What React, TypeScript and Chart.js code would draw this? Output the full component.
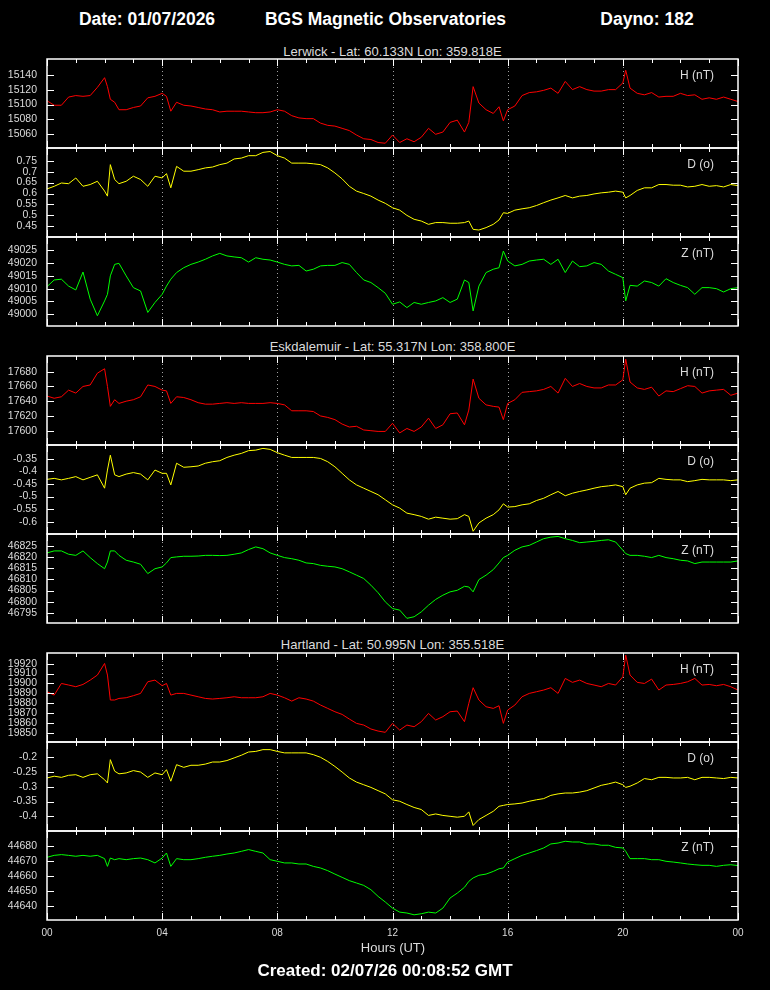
import React, { useEffect, useRef } from 'react';
import { Chart, registerables } from 'chart.js';

Chart.register(...registerables);

const FONT = "'Liberation Sans', Arial, Helvetica, sans-serif";

// ---- time axis (hours UT) ----
const HOURS = [
  0, 0.25, 0.5, 0.75, 1, 1.25, 1.5, 1.75, 2,
  2.1, 2.2, 2.35, 2.5,
  2.75, 3, 3.25, 3.5, 3.75, 4,
  4.15, 4.3, 4.5,
  4.75, 5, 5.25, 5.5, 5.75, 6, 6.25, 6.5, 6.75, 7, 7.25, 7.5, 7.75, 8, 8.25, 8.5, 8.75, 9, 9.25, 9.5, 9.75, 10, 10.25, 10.5, 10.75, 11, 11.25, 11.5, 11.75, 12,
  12.25, 12.5, 12.75, 13, 13.25, 13.5, 13.75, 14, 14.25,
  14.5, 14.65, 14.8, 15,
  15.25, 15.5, 15.7, 15.85, 16,
  16.25, 16.5, 16.75, 17, 17.25, 17.5, 17.75, 18, 18.25, 18.5, 18.75, 19, 19.25, 19.5, 19.75, 20,
  20.1, 20.25,
  20.5, 20.75, 21, 21.25, 21.5, 21.75, 22, 22.25, 22.5, 22.75, 23, 23.25, 23.5, 23.75, 24,
];

const X_TICKS = [0, 4, 8, 12, 16, 20, 24];
const X_TICK_LABELS = ['00', '04', '08', '12', '16', '20', '00'];

// ---- Lerwick ----
const LER_H = [
  15105, 15099, 15099, 15110, 15112, 15111, 15112, 15123, 15136,
  15124, 15107, 15103, 15093,
  15093, 15096, 15098, 15109, 15111, 15115,
  15111, 15091, 15103,
  15099, 15098, 15096, 15094, 15093, 15090, 15091, 15091, 15091, 15090, 15089, 15089, 15090, 15093, 15091, 15085, 15082, 15081, 15081, 15075, 15072, 15071, 15068, 15065, 15059, 15054, 15053, 15049, 15048, 15059,
  15049, 15054, 15050, 15056, 15068, 15060, 15063, 15076, 15079,
  15063, 15076, 15124, 15102,
  15093, 15088, 15097, 15078, 15093,
  15098, 15112, 15116, 15117, 15119, 15122, 15115, 15131, 15120, 15124, 15120, 15118, 15118, 15120, 15120, 15129,
  15146, 15122,
  15115, 15113, 15116, 15110, 15111, 15111, 15115, 15112, 15113, 15107, 15109, 15107, 15110, 15107, 15104,
];
const LER_D = [
  0.621, 0.633, 0.648, 0.645, 0.671, 0.633, 0.641, 0.656, 0.611,
  0.588, 0.732, 0.664, 0.645,
  0.656, 0.679, 0.664, 0.633, 0.679, 0.671,
  0.691, 0.626, 0.724,
  0.702, 0.702, 0.709, 0.717, 0.721, 0.732, 0.739, 0.758, 0.762, 0.773, 0.773, 0.788, 0.792, 0.773, 0.762, 0.739, 0.739, 0.739, 0.736, 0.732, 0.717, 0.694, 0.667, 0.633, 0.611, 0.6, 0.588, 0.57, 0.555, 0.535,
  0.524, 0.5, 0.482, 0.474, 0.459, 0.467, 0.467, 0.464, 0.464,
  0.467, 0.474, 0.436, 0.433,
  0.444, 0.459, 0.479, 0.512, 0.509,
  0.524, 0.53, 0.535, 0.545, 0.558, 0.57, 0.58, 0.591, 0.58, 0.588, 0.591, 0.598, 0.603, 0.606, 0.611, 0.606,
  0.58, 0.591,
  0.614, 0.626, 0.626, 0.641, 0.641, 0.638, 0.638, 0.63, 0.633, 0.641, 0.633, 0.636, 0.63, 0.641, 0.636,
];
const LER_Z = [
  49010.8, 49013.4, 49013.7, 49011, 49009.5, 49016.5, 49005.9, 48999.4, 49005.2,
  49007.8, 49015, 49019.5, 49019.9,
  49015, 49010.4, 49009.1, 49000.7, 49004.6, 49007.8,
  49011, 49013.7, 49016.3,
  49018.2, 49019.5, 49020.4, 49021.5, 49022.8, 49023.8, 49022.8, 49022.4, 49022.1, 49020.4, 49022.1, 49021.5, 49021.2, 49020.4, 49019.5, 49018.9, 49019.1, 49016.9, 49017.6, 49018.9, 49019.1, 49019.1, 49020.2, 49019.5, 49016.3, 49013.4, 49012.4, 49010.4, 49008.2, 49003.9,
  49004.8, 49002.6, 49004.6, 49003.9, 49004.6, 49005.2, 49006.5, 49004.6, 49005.9,
  49013.4, 49012.4, 49001.3, 49011,
  49016.3, 49017.6, 49018.2, 49024.7, 49020.8,
  49018.9, 49019.5, 49020.8, 49021.2, 49021.5, 49019.5, 49021.5, 49016.3, 49020.8, 49018.6, 49018.9, 49020.2, 49019.5, 49016.9, 49015.6, 49014.3,
  49005.2, 49011.3,
  49011, 49013, 49012.4, 49011, 49013.9, 49012.4, 49011.3, 49010.4, 49007.8, 49010.4, 49010.4, 49010, 49008.7, 49010, 49010.4,
];

// ---- Eskdalemuir ----
const ESK_H = [
  17647, 17644, 17646, 17655, 17651, 17660, 17662, 17678, 17684,
  17660, 17633, 17642, 17637,
  17640, 17642, 17646, 17662, 17660, 17655,
  17654, 17637, 17646,
  17645, 17642, 17638, 17636, 17636, 17637, 17638, 17637, 17638, 17637, 17637, 17637, 17638, 17637, 17635, 17627, 17627, 17627, 17626, 17620, 17618, 17615, 17609, 17605, 17606, 17601, 17600, 17599, 17599, 17610,
  17597, 17603, 17599, 17605, 17617, 17603, 17608, 17623, 17624,
  17608, 17628, 17670, 17644,
  17635, 17633, 17632, 17615, 17637,
  17642, 17652, 17653, 17654, 17656, 17660, 17651, 17671, 17660, 17664, 17660, 17658, 17658, 17662, 17662, 17669,
  17697, 17666,
  17658, 17656, 17659, 17647, 17654, 17653, 17657, 17661, 17660, 17651, 17654, 17655, 17656, 17648, 17651,
];
const ESK_D = [
  -0.432, -0.428, -0.434, -0.428, -0.421, -0.434, -0.424, -0.414, -0.467,
  -0.395, -0.336, -0.414, -0.421,
  -0.411, -0.405, -0.411, -0.434, -0.395, -0.408,
  -0.408, -0.454, -0.368,
  -0.384, -0.382, -0.379, -0.368, -0.362, -0.358, -0.345, -0.336, -0.329, -0.318, -0.316, -0.309, -0.313, -0.326, -0.336, -0.345, -0.345, -0.345, -0.345, -0.349, -0.362, -0.382, -0.408, -0.434, -0.454, -0.467, -0.48, -0.493, -0.513, -0.533,
  -0.546, -0.566, -0.572, -0.579, -0.59, -0.582, -0.586, -0.59, -0.588,
  -0.572, -0.579, -0.638, -0.605,
  -0.586, -0.572, -0.553, -0.529, -0.542,
  -0.54, -0.533, -0.529, -0.516, -0.507, -0.493, -0.48, -0.497, -0.487, -0.48, -0.474, -0.467, -0.461, -0.458, -0.454, -0.461,
  -0.493, -0.467,
  -0.454, -0.447, -0.445, -0.428, -0.432, -0.434, -0.434, -0.441, -0.437, -0.432, -0.434, -0.434, -0.434, -0.437, -0.434,
];
const ESK_Z = [
  46821.9, 46822.8, 46822.8, 46821.3, 46820.8, 46822.8, 46819.8, 46817.1, 46814.8,
  46817.8, 46822.8, 46822.8, 46820.8,
  46818.6, 46817.8, 46816.8, 46812.6, 46814.8, 46815.6,
  46817.4, 46819.8, 46820.1,
  46820.4, 46820.4, 46820.5, 46820.8, 46820.8, 46820.7, 46820.8, 46821.3, 46821.9, 46823.4, 46824.6, 46823.8, 46821.9, 46820.8, 46819.8, 46819.3, 46818.6, 46817.4, 46817.1, 46816.3, 46815.9, 46815.6, 46814.8, 46813.4, 46811.9, 46810.4, 46807.4, 46804, 46799.9, 46796.9,
  46796.2, 46792.5, 46793.2, 46795.4, 46798.4, 46801, 46802.9, 46804.4, 46805.1,
  46806.9, 46806.6, 46804.4, 46809.9,
  46811.9, 46814.4, 46817.4, 46819.8, 46820.8,
  46823.1, 46824.6, 46825.3, 46826.8, 46828.3, 46829, 46829.3, 46828.3, 46827.5, 46826.5, 46826.8, 46827.1, 46827.5, 46827.8, 46826.8, 46823.1,
  46821.6, 46820.8,
  46820.8, 46820.4, 46819.8, 46820.8, 46819.8, 46819.3, 46818.6, 46818.3, 46817.1, 46817.8, 46817.8, 46817.8, 46817.8, 46817.8, 46818.3,
];

// ---- Hartland ----
const HAR_H = [
  19891.6, 19888.2, 19900, 19898.4, 19896.7, 19899, 19903.4, 19908.5, 19920.3,
  19908.5, 19883.2, 19883.2, 19884.8,
  19885.5, 19887.6, 19889.9, 19901.7, 19903.4, 19897.7,
  19900, 19888.2, 19889.9,
  19889.9, 19888.2, 19886.5, 19884.8, 19884.2, 19884.8, 19885.5, 19886.5, 19885.5, 19885.5, 19885.5, 19886.5, 19889.9, 19888.2, 19885.5, 19882.1, 19885.5, 19884.2, 19882.1, 19878.1, 19874.7, 19871.3, 19868.6, 19863.9, 19859.5, 19857.8, 19853.8, 19851.7, 19850.4, 19859.5,
  19852.7, 19857.8, 19856.1, 19861.2, 19869.6, 19862.9, 19866.3, 19871.3, 19872,
  19861.2, 19879.8, 19895.7, 19883.2,
  19876.4, 19874.7, 19877.4, 19859.5, 19873,
  19878.1, 19886.5, 19889.9, 19891.6, 19893.3, 19895.7, 19889.9, 19905.1, 19901.1, 19903.4, 19900, 19898.4, 19896.7, 19900, 19898.4, 19906.8,
  19928.8, 19908.5,
  19901.1, 19900, 19904.4, 19893.3, 19898.4, 19899, 19900, 19901.7, 19905.1, 19898.4, 19899, 19897.7, 19899, 19896.7, 19893.3,
];
const HAR_D = [
  -0.27, -0.264, -0.268, -0.261, -0.259, -0.268, -0.259, -0.256, -0.276,
  -0.287, -0.208, -0.247, -0.256,
  -0.253, -0.245, -0.25, -0.268, -0.253, -0.259,
  -0.242, -0.281, -0.225,
  -0.234, -0.227, -0.227, -0.223, -0.216, -0.216, -0.211, -0.202, -0.193, -0.182, -0.18, -0.174, -0.174, -0.18, -0.185, -0.185, -0.185, -0.185, -0.191, -0.2, -0.214, -0.231, -0.25, -0.27, -0.284, -0.293, -0.302, -0.313, -0.324, -0.344,
  -0.349, -0.36, -0.37, -0.377, -0.397, -0.392, -0.397, -0.4, -0.403,
  -0.4, -0.385, -0.431, -0.411,
  -0.397, -0.383, -0.366, -0.363, -0.36,
  -0.358, -0.355, -0.349, -0.344, -0.34, -0.329, -0.324, -0.321, -0.321, -0.318, -0.313, -0.304, -0.295, -0.29, -0.284, -0.293,
  -0.302, -0.298,
  -0.287, -0.272, -0.276, -0.268, -0.268, -0.27, -0.27, -0.268, -0.276, -0.268, -0.268, -0.27, -0.272, -0.268, -0.27,
];
const HAR_Z = [
  44672.6, 44673.9, 44674.4, 44673.9, 44673.3, 44673.9, 44673.3, 44673.9, 44671.7,
  44666.5, 44672.1, 44671, 44671.7,
  44671, 44671.7, 44672.1, 44671, 44668.8, 44672.1,
  44675.5, 44666.5, 44671.7,
  44671, 44671, 44671.7, 44672.6, 44673.3, 44673.9, 44674.8, 44675.5, 44676.6, 44677.8, 44676.6, 44675.5, 44671, 44669.9, 44668.8, 44668.8, 44668.1, 44668.1, 44666.5, 44665.4, 44663.6, 44661.3, 44659.1, 44656.9, 44655.3, 44653.7, 44650.8, 44646.3, 44642.5, 44638.4,
  44635.7, 44635.1, 44633.9, 44634.6, 44635.7, 44635.1, 44638.4, 44645.2, 44648.5,
  44652.4, 44656.4, 44658.7, 44660.5,
  44661.3, 44663.1, 44664.9, 44665.4, 44669.4,
  44671.7, 44673.9, 44675.5, 44677.1, 44678.9, 44681.6, 44682.2, 44683.4, 44682.9, 44682.9, 44681.6, 44681.6, 44680.7, 44680.7, 44679.3, 44678.9,
  44676.6, 44671.7,
  44671.7, 44671.7, 44671, 44671, 44669.9, 44669.4, 44668.8, 44668.1, 44667.6, 44667.2, 44667.2, 44666.5, 44667.2, 44667.6, 44667,
];

// ---- tick labels ----
const LER_H_TICKS = [15060, 15080, 15100, 15120, 15140];
const LER_D_TICKS = [0.45, 0.5, 0.55, 0.6, 0.65, 0.7, 0.75];
const LER_Z_TICKS = [49000, 49005, 49010, 49015, 49020, 49025];
const ESK_H_TICKS = [17600, 17620, 17640, 17660, 17680];
const ESK_D_TICKS = [-0.6, -0.55, -0.5, -0.45, -0.4, -0.35];
const ESK_Z_TICKS = [46795, 46800, 46805, 46810, 46815, 46820, 46825];
const HAR_H_TICKS = [19850, 19860, 19870, 19880, 19890, 19900, 19910, 19920];
const HAR_D_TICKS = [-0.4, -0.35, -0.3, -0.25, -0.2];
const HAR_Z_TICKS = [44640, 44650, 44660, 44670, 44680];

// ---- axis ranges ----
const LER_H_RANGE = [15041.6, 15161.1];
const LER_D_RANGE = [0.4011, 0.8081];
const LER_Z_RANGE = [48995.4, 49030.2];
const ESK_H_RANGE = [17580.6, 17701.3];
const ESK_D_RANGE = [-0.6488, -0.2956];
const ESK_Z_RANGE = [46790.4, 46830.4];
const HAR_H_RANGE = [19840.6, 19930.9];
const HAR_D_RANGE = [-0.4498, -0.1481];
const HAR_Z_RANGE = [44630.4, 44690.3];

const STATIONS = [
  'Lerwick - Lat: 60.133N Lon: 359.818E',
  'Eskdalemuir - Lat: 55.317N Lon: 358.800E',
  'Hartland - Lat: 50.995N Lon: 355.518E',
];
const COMPONENTS = ['H (nT)', 'D (o)', 'Z (nT)'];
const COLORS = ['#ff0000', '#ffff00', '#00ff00'];

const SERIES = [
  [LER_H, LER_D, LER_Z],
  [ESK_H, ESK_D, ESK_Z],
  [HAR_H, HAR_D, HAR_Z],
];
const TICKS = [
  [LER_H_TICKS, LER_D_TICKS, LER_Z_TICKS],
  [ESK_H_TICKS, ESK_D_TICKS, ESK_Z_TICKS],
  [HAR_H_TICKS, HAR_D_TICKS, HAR_Z_TICKS],
];
const RANGES = [
  [LER_H_RANGE, LER_D_RANGE, LER_Z_RANGE],
  [ESK_H_RANGE, ESK_D_RANGE, ESK_Z_RANGE],
  [HAR_H_RANGE, HAR_D_RANGE, HAR_Z_RANGE],
];

// layout
const GROUP_TOPS = [59, 356, 653];
const STATION_TITLE_Y = [51.5, 346.7, 644.5];
const PANEL_H = 89;
const PLOT_LEFT = 47;
const PLOT_RIGHT = 738;
const W = 770;

const framePlugin = {
  id: 'bgsFrame',
  beforeDatasetsDraw(chart: any) {
    const { ctx, chartArea: a, scales } = chart;
    const x = scales.x;
    ctx.save();
    ctx.strokeStyle = '#a0a0a0';
    ctx.lineWidth = 1;
    ctx.setLineDash([1, 3]);
    for (const h of [4, 8, 12, 16, 20]) {
      const px = Math.round(x.getPixelForValue(h)) + 0.5;
      ctx.beginPath();
      ctx.moveTo(px, a.top);
      ctx.lineTo(px, a.bottom);
      ctx.stroke();
    }
    ctx.restore();
  },
  afterDatasetsDraw(chart: any) {
    const { ctx, chartArea: a, scales } = chart;
    const x = scales.x;
    const y = scales.y;
    ctx.save();
    ctx.strokeStyle = '#ffffff';
    ctx.lineWidth = 1;
    ctx.beginPath();
    for (let h = 0; h <= 24; h++) {
      const px = Math.round(x.getPixelForValue(h)) + 0.5;
      const len = h % 4 === 0 ? 7 : 4;
      ctx.moveTo(px, a.top);
      ctx.lineTo(px, a.top + len);
      ctx.moveTo(px, a.bottom);
      ctx.lineTo(px, a.bottom - len);
    }
    for (const t of y.ticks) {
      const py = Math.round(y.getPixelForValue(t.value)) + 0.5;
      ctx.moveTo(a.left, py);
      ctx.lineTo(a.left + 7, py);
      ctx.moveTo(a.right, py);
      ctx.lineTo(a.right - 7, py);
    }
    ctx.stroke();
    ctx.lineWidth = 1.5;
    ctx.strokeRect(a.left, a.top, a.right - a.left, a.bottom - a.top);
    ctx.restore();
  },
};

type PanelProps = {
  values: number[];
  ticks: number[];
  range: number[];
  color: string;
  top: number;
  showX: boolean;
};

function Panel({ values, ticks, range, color, top, showX }: PanelProps) {
  const ref = useRef<HTMLCanvasElement>(null);
  const padTop = 24;
  const padBottom = showX ? 0 : 24;
  const axisH = showX ? 24 : 0;
  const height = padTop + PANEL_H + padBottom + axisH;

  useEffect(() => {
    if (!ref.current) return;
    const chart = new Chart(ref.current, {
      type: 'line',
      data: {
        datasets: [
          {
            data: values.map((v, i) => ({ x: HOURS[i], y: v })),
            borderColor: color,
            borderWidth: 1,
            pointRadius: 0,
            tension: 0,
            fill: false,
          },
        ],
      },
      options: {
        animation: false,
        responsive: false,
        maintainAspectRatio: false,
        events: [],
        layout: { padding: { top: padTop, left: 0, right: W - PLOT_RIGHT, bottom: padBottom } },
        plugins: { legend: { display: false }, tooltip: { enabled: false }, title: { display: false } },
        scales: {
          x: {
            type: 'linear',
            min: 0,
            max: 24,
            display: showX,
            grid: { display: false, drawTicks: false },
            border: { display: false },
            afterBuildTicks: (s: any) => {
              s.ticks = X_TICKS.map((v) => ({ value: v }));
            },
            afterFit: (s: any) => {
              s.height = axisH;
            },
            ticks: {
              color: '#dcdcdc',
              font: { family: FONT, size: 10 },
              padding: 7,
              maxRotation: 0,
              autoSkip: false,
              callback: (_v: any, i: number) => X_TICK_LABELS[i],
            },
          },
          y: {
            type: 'linear',
            min: range[0],
            max: range[1],
            bounds: 'data',
            grid: { display: false, drawTicks: false },
            border: { display: false },
            afterBuildTicks: (s: any) => {
              s.ticks = ticks.map((v) => ({ value: v }));
            },
            afterFit: (s: any) => {
              s.width = PLOT_LEFT;
            },
            ticks: {
              color: '#dcdcdc',
              font: { family: FONT, size: 10.5 },
              padding: 10,
              autoSkip: false,
              callback: (v: any) => String(v),
            },
          },
        },
      } as any,
      plugins: [framePlugin],
    });
    return () => chart.destroy();
  }, []);

  return (
    <canvas
      ref={ref}
      width={W}
      height={height}
      style={{ position: 'absolute', left: 0, top: top - padTop, width: W, height, display: 'block' }}
    />
  );
}

type TxtProps = {
  x: number;
  y: number;
  size: number;
  align?: 'center' | 'right';
  bold?: boolean;
  color?: string;
  children: React.ReactNode;
};

function Txt({ x, y, size, align = 'center', bold = false, color = '#dcdcdc', children }: TxtProps) {
  const lh = Math.round(size * 2);
  const style: React.CSSProperties = {
    position: 'absolute',
    top: y - lh / 2,
    height: lh,
    lineHeight: `${lh}px`,
    fontSize: size,
    fontFamily: FONT,
    fontWeight: bold ? 700 : 400,
    color,
    whiteSpace: 'nowrap',
    width: 600,
    textAlign: align,
    left: align === 'center' ? x - 300 : x - 600,
  };
  return <div style={style}>{children}</div>;
}

export default function App() {
  useEffect(() => {
    document.body.style.margin = '0';
    document.body.style.background = '#000';
  }, []);

  const panels: React.ReactNode[] = [];
  const labels: React.ReactNode[] = [];
  SERIES.forEach((group, g) => {
    group.forEach((values, c) => {
      const top = GROUP_TOPS[g] + c * PANEL_H;
      panels.push(
        <Panel
          key={`p${g}${c}`}
          values={values}
          ticks={TICKS[g][c]}
          range={RANGES[g][c]}
          color={COLORS[c]}
          top={top}
          showX={g === 2 && c === 2}
        />
      );
      labels.push(
        <Txt key={`l${g}${c}`} x={714} y={top + 16} size={12} align="right">
          {COMPONENTS[c]}
        </Txt>
      );
    });
  });

  return (
    <div style={{ position: 'absolute', left: 0, top: 0, width: W, height: 990, background: '#000', overflow: 'hidden' }}>
      <Txt x={147} y={19.7} size={17.5} bold color="#ffffff">Date: 01/07/2026</Txt>
      <Txt x={385.5} y={19.7} size={17.5} bold color="#ffffff">BGS Magnetic Observatories</Txt>
      <Txt x={647} y={19.7} size={17.5} bold color="#ffffff">Dayno: 182</Txt>
      {STATIONS.map((s, g) => (
        <Txt key={`s${g}`} x={392.5} y={STATION_TITLE_Y[g]} size={13}>
          {s}
        </Txt>
      ))}
      {panels}
      {labels}
      <Txt x={393} y={947.5} size={13}>Hours (UT)</Txt>
      <Txt x={385} y={970.5} size={17} bold color="#ffffff">Created: 02/07/26 00:08:52 GMT</Txt>
    </div>
  );
}
